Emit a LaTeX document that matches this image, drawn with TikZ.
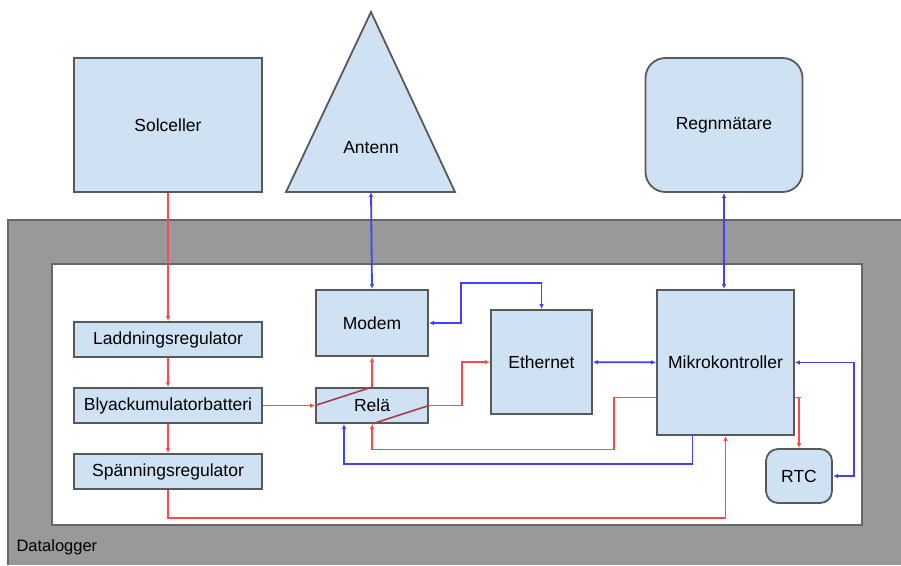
\documentclass[tikz,border=0pt]{standalone}
\usepackage{fontspec}
\setmainfont{Liberation Sans}
\usetikzlibrary{arrows.meta}
\definecolor{boxfill}{HTML}{CFE2F3}
\definecolor{boxline}{HTML}{595959}
\definecolor{kraftrod}{HTML}{FF4848}
\definecolor{signalbla}{HTML}{4040FF}
\definecolor{brytrod}{HTML}{A8404C}
\definecolor{lada}{HTML}{999999}
\definecolor{ladkant}{HTML}{666666}

\begin{document}
\begin{tikzpicture}[x=1pt,y=-1pt,>={Latex[length=5pt,width=4.5pt]},
    ruta/.style={draw=boxline,fill=boxfill,line width=1.8pt,inner sep=0pt,%
      font=\fontsize{17.5}{20}\selectfont},
    kraft/.style={kraftrod,line width=1.8pt},
    signal/.style={signalbla,line width=1.8pt}]
      \useasboundingbox (0,0) rectangle (901,565) ;
      % datalogger-lada
      \fill[lada] (8,220) rectangle (901,565) ;
      \draw[line width=2pt,ladkant] (8,565) -- (8,220) -- (901,220) ;
      \draw[line width=1.8pt,ladkant,fill=white] (52,264) rectangle (862,525) ;
      \node[anchor=west,font=\fontsize{16.5}{20}\selectfont] (datalogger) at (13,547) {Datalogger} ;
      % yttre enheter
      \node[ruta,minimum width=188pt,minimum height=134pt] (sol) at (168,125) {Solceller} ;
      \node[ruta,rounded corners=20pt,minimum width=157pt,minimum height=134pt] %
      (regn) at (724,125) {Regnmätare} ;
      \draw[boxline,fill=boxfill,line width=1.8pt] (371,12) -- (455,192) -- (286,192) -- cycle ;
      \coordinate (antfot) at (371,192) ;
      \node[font=\fontsize{17.5}{20}\selectfont] (antenn) at (371,148) {Antenn} ;
      % inre enheter
      \node[ruta,minimum width=188pt,minimum height=35pt] (ladd) at (168,339.5) {Laddningsregulator} ;
      \node[ruta,minimum width=188pt,minimum height=35pt] (bly) at (168,405.5) {Blyackumulatorbatteri} ;
      \node[ruta,minimum width=188pt,minimum height=35pt] (spann) at (168,471.5) {Spänningsregulator} ;
      \node[ruta,minimum width=112pt,minimum height=66pt] (modem) at (372,323) {Modem} ;
      \node[ruta,minimum width=112pt,minimum height=35pt] (rela) at (372,405.5) {Relä} ;
      \node[ruta,minimum width=101pt,minimum height=104pt] (eth) at (541.5,362) {Ethernet} ;
      \node[ruta,minimum width=137pt,minimum height=145pt] (mikro) at (725.5,362.5) {Mikrokontroller} ;
      \node[ruta,rounded corners=12pt,minimum width=66pt,minimum height=54pt] (rtc) at (799,476) {RTC} ;
      % kraft
      \draw[kraft,->] (sol) -- (ladd) ;
      \draw[kraft,->] (ladd) -- (bly) ;
      \draw[kraft,->] (bly) -- (spann) ;
      \draw[kraft,->] (bly) -- (rela) ;
      \draw[kraft,->] (rela) -- (modem) ;
      \draw[kraft,->] (rela.east) -- ++(33,0) |- (eth.west) ;
      \draw[kraft,->] ([yshift=-35pt]mikro.west) -- ++(-42,0) -- ++(0,52) -| (rela.south) ;
      \draw[kraft,->] (spann.south) -- ++(0,28) -| (mikro.south) ;
      \draw[kraft,->] ([yshift=-35pt]mikro.east) -- ++(6,0) -| (rtc.north) ;
      \draw[brytrod,line width=1.6pt] (rela.west) -- (rela.north) ;
      \draw[brytrod,line width=1.6pt] (rela.south) -- (rela.east) ;
      % signaler
      \draw[signal,<->] (antfot) -- (modem.north) ;
      \draw[signal,<->] (modem.east) -- ++(32,0) -- ++(0,-40) -| (eth.north) ;
      \draw[signal,<->] (eth) -- (mikro) ;
      \draw[signal,<->] (regn.south) -- (regn.south |- mikro.north) ;
      \draw[signal,->] ([xshift=-33pt]mikro.south) -- ++(0,28) -| ([xshift=-28pt]rela.south) ;
      \draw[signal,<->] (mikro.east) -- ++(59,0) |- (rtc.east) ;
    \end{tikzpicture}
\end{document}
